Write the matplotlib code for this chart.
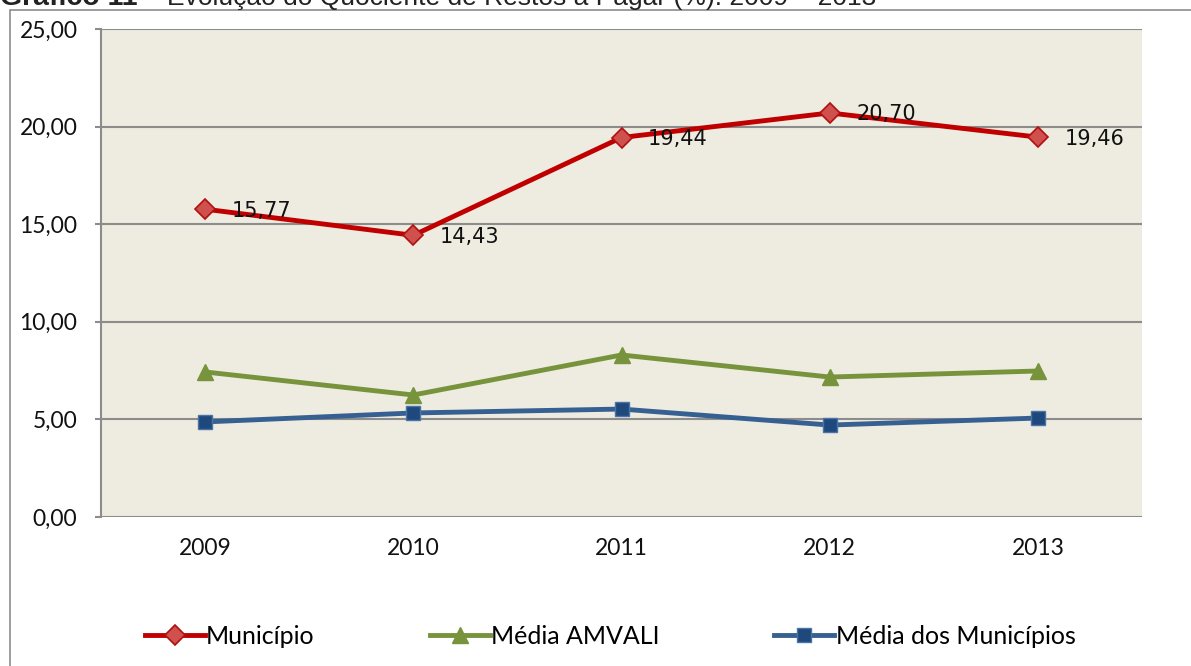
import matplotlib
matplotlib.use("Agg")
import matplotlib.pyplot as plt
from matplotlib.patches import Rectangle

years = ["2009", "2010", "2011", "2012", "2013"]
municipio = [15.77, 14.43, 19.44, 20.70, 19.46]
amvali = [7.43, 6.25, 8.30, 7.17, 7.48]
media_municipios = [4.87, 5.33, 5.53, 4.71, 5.07]
yticks = [0, 5, 10, 15, 20, 25]

fig = plt.figure(figsize=(11.91, 6.66), dpi=100)
W, H = 1191, 666
ax = fig.add_axes([101 / W, 1 - 517 / H, (1142 - 101) / W, (517 - 29) / H])
ax.set_facecolor("#EEEBE0")

# outer chart frame (extends beyond the image on right/bottom)
fig.patches.append(Rectangle((10 / W, -0.05), 1.2, 1 - 10 / H + 0.05,
                             transform=fig.transFigure, fill=False,
                             edgecolor="#8C8C8C", linewidth=1.2, zorder=0))

# title (cut off at the top of the picture)
fig.text(0 / W, 1 - 5 / H, "Gráfico 11", fontsize=20.5, fontweight="bold",
         family="Liberation Sans", va="baseline", ha="left", color="#222222")
fig.text(152 / W, 1 - 5 / H, "–", fontsize=19,
         family="Liberation Sans", va="baseline", ha="center", color="#222222")
fig.text(167 / W, 1 - 5 / H, "Evolução do Quociente de Restos a Pagar (%): 2009 – 2013",
         fontsize=19, family="Liberation Sans", va="baseline", ha="left", color="#222222")

x = list(range(len(years)))
ax.plot(x, municipio, color="#C00000", linewidth=3.5, marker="D", markersize=10,
        markerfacecolor="#D0504D", markeredgecolor="#B01010", markeredgewidth=1.2,
        label="Município", zorder=4)
ax.plot(x, amvali, color="#77933C", linewidth=3.5, marker="^", markersize=11,
        markerfacecolor="#77933C", markeredgecolor="#77933C",
        label="Média AMVALI", zorder=3)
ax.plot(x, media_municipios, color="#376092", linewidth=3.5, marker="s", markersize=10,
        markerfacecolor="#1F497D", markeredgecolor="#4A74A8", markeredgewidth=1.0,
        label="Média dos Municípios", zorder=3)

for xi, v in zip(x, municipio):
    ax.annotate(f"{v:.2f}".replace(".", ","), (xi, v), xytext=(19, -1),
                textcoords="offset points", ha="left", va="center",
                fontsize=15, family="DejaVu Sans", color="#111111", zorder=5)

ax.set_xlim(-0.5, len(years) - 0.5)
ax.set_ylim(0, 25)
ax.set_yticks(yticks)
ax.set_yticklabels([f"{t:.2f}".replace(".", ",") for t in yticks])
ax.set_xticks(x)
ax.set_xticklabels(years)
ax.grid(axis="y", color="#8C8C8C", linewidth=1.5)
ax.set_axisbelow(True)
for s in ["top", "right", "bottom"]:
    ax.spines[s].set_visible(False)
ax.spines["left"].set_color("#8C8C8C")
ax.spines["left"].set_linewidth(1.5)
ax.tick_params(axis="y", length=4.5, width=1.5, color="#8C8C8C", pad=12.5,
               labelsize=16.5, labelcolor="#111111")
ax.tick_params(axis="x", length=0, pad=15, labelsize=16.5, labelcolor="#111111")
for lbl in ax.get_yticklabels() + ax.get_xticklabels():
    lbl.set_family("Lato")

leg = fig.legend(loc="center", bbox_to_anchor=(610 / W, 1 - 636 / H), ncol=3,
                 frameon=False, prop={"family": "Lato", "size": 18},
                 handlelength=2.4, handletextpad=0.05, columnspacing=4.6,
                 markerscale=1.0)
fig.savefig("out.png", dpi=100)
